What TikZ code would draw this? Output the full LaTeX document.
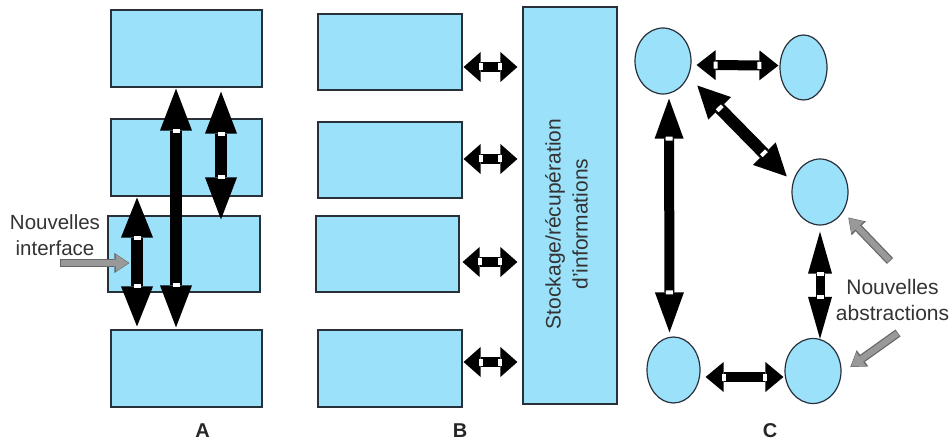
\documentclass[tikz,border=0pt]{standalone}
\usepackage{fontspec}
\setmainfont{Liberation Sans}
\usetikzlibrary{arrows.meta,calc,shapes.geometric,decorations.markings}

\definecolor{boxblue}{RGB}{155,225,250}
\definecolor{edgegray}{RGB}{40,48,58}

\begin{document}
\begin{tikzpicture}[
    x=1pt, y=-1pt,
    box/.style={rectangle, draw=edgegray, line width=1.2pt, fill=boxblue, inner sep=0pt},
    blob/.style={ellipse, draw=edgegray, line width=1.2pt, fill=boxblue, inner sep=0pt},
    note/.style={align=center, text=black!80, font=\fontsize{20.5}{26}\selectfont},
    tag/.style={text=black!85, font=\fontsize{20}{22}\selectfont\bfseries},
    fat/.style n args={3}{line width=#1,
        {Triangle[length=#2,width=#3,line width=0pt]}-{Triangle[length=#2,width=#3,line width=0pt]},
        postaction={decorate, decoration={markings,
            mark=at position #2 with {\fill[white] (-2pt,-3.5pt) rectangle (2pt,3.5pt);},
            mark=at position -#2 with {\fill[white] (-2pt,-3.5pt) rectangle (2pt,3.5pt);}}}},
    hintedge/.style={line width=8.5pt, draw=black!60, -{Triangle[length=15pt,width=20pt,line width=0pt]}},
    hint/.style={line width=6pt, draw=black!40, shorten <=0.75pt, shorten >=1pt, -{Triangle[length=12.5pt,width=17pt,line width=0pt]}}
]
\useasboundingbox (0,0) rectangle (952,443);

% A. stacked layers
\node[box, minimum width=151pt, minimum height=77pt] (a1) at (186.5,48.5) {};
\node[box, minimum width=151pt, minimum height=77pt] (a2) at (186.5,157.5) {};
\node[box, minimum width=152pt, minimum height=76pt] (a3) at (184,254) {};
\node[box, minimum width=151pt, minimum height=77pt] (a4) at (186.5,368.5) {};
\node[note] (newif) at (55,235) {Nouvelles\\interface};
\coordinate (ia) at (60,263);

% B. modules around a shared store
\node[box, minimum width=144pt, minimum height=76pt] (b1) at (390,52) {};
\node[box, minimum width=144pt, minimum height=76pt] (b2) at (390,160) {};
\node[box, minimum width=143pt, minimum height=76pt] (b3) at (387.5,254) {};
\node[box, minimum width=144pt, minimum height=77pt] (b4) at (390,368.5) {};
\node[box, minimum width=94pt, minimum height=397pt] (store) at (570,205.5) {};
\node[rotate=90, align=center, text=black!80, font=\fontsize{21}{27}\selectfont] (storetxt) at (566.5,224) {Stockage/récupération\\d'informations};

% C. graph of abstractions
\node[blob, minimum width=56pt, minimum height=66pt] (c1) at (663,61) {};
\node[blob, minimum width=47pt, minimum height=65pt] (c2) at (803.5,67.5) {};
\node[blob, minimum width=56pt, minimum height=66pt] (c3) at (820,192) {};
\node[blob, minimum width=53pt, minimum height=66pt] (c4) at (673.5,370) {};
\node[blob, minimum width=56pt, minimum height=65pt] (c5) at (813,371) {};
\node[note, font=\fontsize{21}{26}\selectfont] (newab) at (892.5,300) {Nouvelles\\abstractions};
\coordinate (ab1) at (890,261);
\coordinate (ab2) at (898,333);

% panel letters
\node[tag] (la) at (202.5,431) {A};
\node[tag] (lb) at (460,431) {B};
\node[tag] (lc) at (770,431) {C};

% Arrows A
\draw[fat={12pt}{42pt}{32pt}] ($(a1.south)+(-10.5,1)$) -- ($(a4.north)+(-10.5,-2)$);
\draw[fat={12pt}{42pt}{32pt}] ($(a1.south)+(34.5,4)$) -- ($(a3.north)+(37,4)$);
\draw[fat={12pt}{40pt}{32pt}] ($(a2.south)+(-49.5,1)$) -- ($(a4.north)+(-49.5,-3)$);
\draw[hintedge] (ia) -- ($(a3.west)+(22,9)$);
\draw[hint] (ia) -- ($(a3.west)+(22,9)$);

% Arrows B
\draw[fat={10pt}{17pt}{30pt}] ($(b1.east)+(1,15)$) -- ($(b1.east -| store.west)+(-5,15)$);
\draw[fat={10pt}{17pt}{30pt}] ($(b2.east)+(1,-1)$) -- ($(b2.east -| store.west)+(-5,-1)$);
\draw[fat={10pt}{17pt}{30pt}] ($(b3.east)+(3,8)$) -- ($(b3.east -| store.west)+(-5,8)$);
\draw[fat={10pt}{17pt}{30pt}] ($(b4.east)+(1,-6.5)$) -- ($(b4.east -| store.west)+(-5,-6.5)$);

% Arrows C
\draw[fat={10pt}{19pt}{30pt}] ($(c1.east)+(5,4)$) -- ($(c2.west)+(-1,-2)$);
\draw[fat={12pt}{32pt}{32pt}] ($(c1.-40)+(11,5)$) -- ($(c3.140)+(-10,4)$);
\draw[fat={10pt}{40pt}{29pt}] ($(c1.south)+(6,4)$) -- ($(c4.north)+(-4,-4)$);
\draw[fat={9pt}{42pt}{24pt}] ($(c3.south)+(0,6)$) -- ($(c5.north)+(7,1)$);
\draw[fat={10pt}{18pt}{30pt}] ($(c4.east)+(5,7)$) -- ($(c5.west)+(-1,6)$);
\draw[hintedge] (ab1) -- ($(c3.-40)+(5,6)$);
\draw[hint] (ab1) -- ($(c3.-40)+(5,6)$);
\draw[hintedge] (ab2) -- ($(c5.10)+(9,1)$);
\draw[hint] (ab2) -- ($(c5.10)+(9,1)$);

\end{tikzpicture}
\end{document}
